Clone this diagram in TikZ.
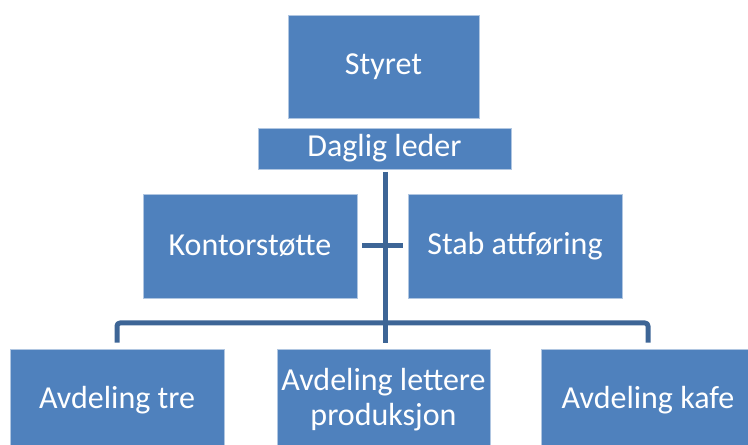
\documentclass[tikz,border=0pt]{standalone}
\usepackage{fontspec}
\setmainfont{Carlito}
\definecolor{boxblue}{RGB}{79,129,189}
\definecolor{linkblue}{RGB}{61,101,150}
\begin{document}
\begin{tikzpicture}[x=1pt,y=1pt,
  orgbox/.style={rectangle, fill=boxblue, draw=white!55!boxblue, line width=0.8pt,
    inner sep=0pt, text=white, align=center,
    font=\fontsize{32}{35}\selectfont},
  link/.style={draw=linkblue, line width=5pt, line join=round}]
\useasboundingbox (0,0) rectangle (748,445);
\node[orgbox, minimum width=191pt, minimum height=103pt] (styret) at (383.5,378.5) {Styret};
\node[orgbox, minimum width=253pt, minimum height=41pt] (dl) at (384.5,296.5) {Daglig leder};
\node[orgbox, minimum width=214pt, minimum height=104pt] (kont) at (250,199) {Kontorstøtte};
\node[orgbox, minimum width=214pt, minimum height=104pt] (stab) at (515,199) {Stab attføring};
\node[orgbox, minimum width=214pt, minimum height=102pt] (b1) at (117,45) {Avdeling tre};
\node[orgbox, minimum width=213pt, minimum height=102pt] (b2) at (383.5,45) {Avdeling lettere\\produksjon};
\node[orgbox, minimum width=214pt, minimum height=102pt] (b3) at (648,45) {Avdeling kafe};
% trunk from Daglig leder down to bus
\coordinate (tt) at (385,273);
\coordinate (tb) at (385,102);
\draw[link] (tt) -- (tb);
% staff stub
\draw[link] ([xshift=5pt]kont.east) -- ([xshift=-5pt]stab.west);
% bus and drops
\draw[link, rounded corners=3pt] ([yshift=6pt]b1.north) |- (385,122) -| ([yshift=6pt]b3.north);
\draw[link] (385,122) -- ([yshift=6pt]b2.north -| tb);
\end{tikzpicture}
\end{document}
